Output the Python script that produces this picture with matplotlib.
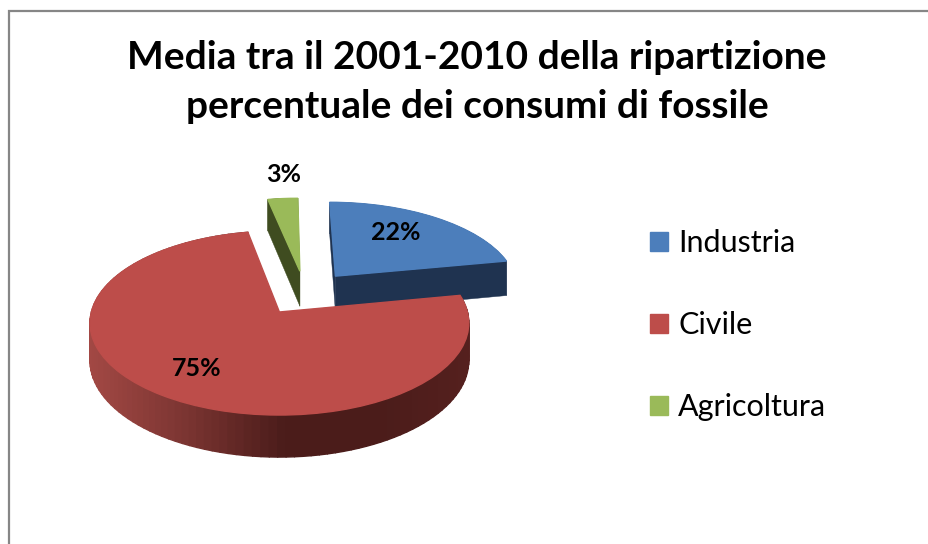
import numpy as np
import matplotlib
matplotlib.use("Agg")
import matplotlib.pyplot as plt
from matplotlib.collections import PolyCollection
from matplotlib.colors import LinearSegmentedColormap
from matplotlib.transforms import Transform

labels = ["Industria", "Civile", "Agricoltura"]
values = [22, 75, 3]
colors = ["#4C7EBB", "#BD4D4A", "#9ABA59"]
dark_colors = ["#1F3350", "#4B1C1A", "#3F4C20"]
explode = [0.27, 0.25, 0.27]
title = "Media tra il 2001-2010 della ripartizione\npercentuale dei consumi di fossile"

W, H = 929, 544
# Perspective view of the pie plane, in pixels
APEX = (279.5, 312.0)
SHIFT = (0.14, 0.207)
A, B, K = 188.0, 90.7, 0.12
DEPTH = 37.0


def project(xy, depth=0.0):
    xy = np.asarray(xy, float)
    x = xy[..., 0] + SHIFT[0]
    y = xy[..., 1] + SHIFT[1]
    d = 1 + K * y
    return np.stack([APEX[0] + A * x / d, APEX[1] - B * y / d + depth / d], axis=-1)


class Persp(Transform):
    input_dims = output_dims = 2
    is_affine = False

    def transform_non_affine(self, values):
        return project(values)

    def inverted(self):
        raise NotImplementedError


plt.rcParams["font.family"] = ["Lato", "DejaVu Sans"]
fig = plt.figure(figsize=(W / 100, H / 100), dpi=100, facecolor="white")
ax = fig.add_axes([0, 0, 1, 1])

wedges, _, autotexts = ax.pie(
    values, explode=explode, colors=colors, startangle=90, counterclock=False,
    autopct="%.0f%%", textprops=dict(fontsize=18, fontweight="bold", color="black"),
)
ax.set_aspect("auto")
ax.set_xlim(0, W)
ax.set_ylim(H, 0)
ax.set_axis_off()

persp = Persp() + ax.transData
side_cmap = LinearSegmentedColormap.from_list(
    "side", ["#A24844", "#7A3431", "#4B1C1A", "#4B1C1A", "#55201E"])
layer = {0: 2, 2: 4, 1: 6}
for i, w in enumerate(wedges):
    t = np.radians(np.linspace(w.theta1, w.theta2, 121))
    cx, cy = w.center
    arc = np.column_stack([cx + w.r * np.cos(t), cy + w.r * np.sin(t)])
    if i == 1:
        outline = arc
    else:
        outline = np.vstack([[w.center], arc, [w.center]])
    top = project(outline)
    bot = project(outline, DEPTH)
    quads = [[top[j], top[j + 1], bot[j + 1], bot[j]] for j in range(len(top) - 1)]
    if i == 1:
        xs = np.array([q[0][0] for q in quads])
        f = np.clip((xs - 90) / (470 - 90), 0, 1)
        cols = side_cmap(f)
        lw = 1.0
    else:
        cols = [dark_colors[i]] * len(quads)
        lw = 0.3
    ax.add_collection(PolyCollection(quads, facecolors=cols, edgecolors=cols,
                                     linewidths=lw, zorder=layer[i]))
    w.set_transform(persp)
    w.set_zorder(layer[i] + 1)
    w.set_edgecolor(colors[i])
    w.set_linewidth(1.0)

label_xy = [(396, 232), (197, 369), (284, 174)]
for txt, xy in zip(autotexts, label_xy):
    txt.set_position(xy)
    txt.set_zorder(10)
    txt.set_ha("center")
    txt.set_va("center")

ax.text(477, 82, title, ha="center", va="center", fontsize=28, fontweight="bold",
        linespacing=1.48, color="black", zorder=10)

ax.legend(wedges, labels, loc="upper left", bbox_to_anchor=(650 / W, 1 - 229 / H),
          frameon=False, fontsize=22, handlelength=0.59, handleheight=0.59, handletextpad=0.33,
          labelspacing=1.77, borderpad=0, borderaxespad=0)

# Chart frame
ax.plot([9, 9, W], [H, 11, 11], color="#868686", lw=1.6, solid_joinstyle="miter",
        clip_on=False, zorder=1)

fig.savefig("out.png", dpi=100, facecolor="white")
